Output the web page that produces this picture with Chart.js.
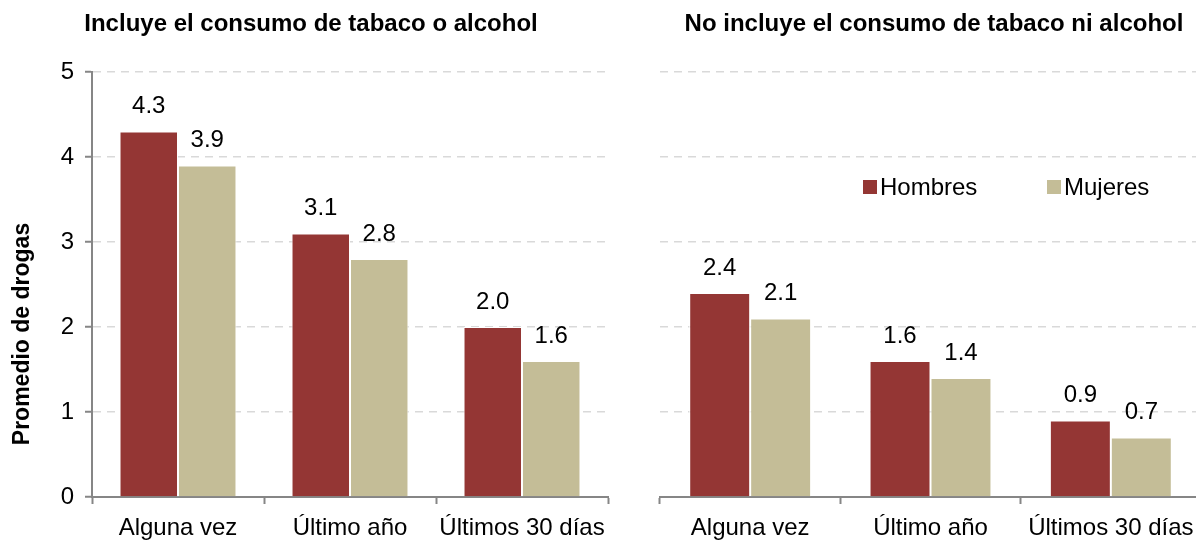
<!DOCTYPE html>
<html>
<head>
<meta charset="utf-8">
<script src="https://cdn.jsdelivr.net/npm/chart.js@4"></script>
<style>
  html,body{margin:0;padding:0;background:#fff;}
  #wrap{position:relative;width:1196px;height:541px;overflow:hidden;}
  .c{position:absolute;top:0;}
</style>
</head>
<body>
<div id="wrap">
  <div class="c" style="left:0;width:620px;height:541px;"><canvas id="left"></canvas></div>
  <div class="c" style="left:620px;width:586px;height:541px;"><canvas id="right"></canvas></div>
</div>
<script>
const categories = ["Alguna vez", "Último año", "Últimos 30 días"];
const seriesNames = ["Hombres", "Mujeres"];
const leftHombres = [4.3, 3.1, 2.0];
const leftMujeres = [3.9, 2.8, 1.6];
const rightHombres = [2.4, 1.6, 0.9];
const rightMujeres = [2.1, 1.4, 0.7];
const yTicks = [0, 1, 2, 3, 4, 5];
const leftTitle = "Incluye el consumo de tabaco o alcohol";
const rightTitle = "No incluye el consumo de tabaco ni alcohol";
const yAxisTitle = "Promedio de drogas";

const RED = "#943634";
const BEIGE = "#C4BD97";
const FONT = "'Liberation Sans', Arial, sans-serif";
const AXIS = "#868686";
const GRID = "#d9d9d9";

const valueLabels = {
  id: "valueLabels",
  afterDatasetsDraw(chart) {
    const ctx = chart.ctx;
    ctx.save();
    ctx.font = "24px " + FONT;
    ctx.fillStyle = "#000";
    ctx.textAlign = "center";
    ctx.textBaseline = "middle";
    chart.data.datasets.forEach((ds, i) => {
      chart.getDatasetMeta(i).data.forEach((bar, j) => {
        ctx.fillText(ds.data[j].toFixed(1), bar.x, bar.y - 25);
      });
    });
    ctx.restore();
  }
};

const textDecor = {
  id: "textDecor",
  afterDraw(chart, args, opts) {
    const ctx = chart.ctx;
    ctx.save();
    ctx.fillStyle = "#000";
    ctx.font = "bold 24px " + FONT;
    ctx.textAlign = "center";
    ctx.textBaseline = "middle";
    ctx.fillText(opts.title, opts.titleX, 24);
    if (opts.yTitle) {
      ctx.font = "bold 23px " + FONT;
      ctx.translate(23, 334);
      ctx.rotate(-Math.PI / 2);
      ctx.fillText(opts.yTitle, 0, 0);
      ctx.setTransform(1,0,0,1,0,0);
    }
    if (opts.legend) {
      ctx.font = "24px " + FONT;
      ctx.textAlign = "left";
      const xs = opts.legendX;
      chart.data.datasets.forEach((ds, i) => {
        ctx.fillStyle = ds.backgroundColor;
        ctx.fillRect(xs[i], 180, 14, 14);
        ctx.fillStyle = "#000";
        ctx.fillText(ds.label, xs[i] + 17, 188);
      });
    }
    ctx.restore();
  }
};

function makeChart(id, h, m, leftW, rightPad, catPct, decor, showY) {
  return new Chart(document.getElementById(id), {
    type: "bar",
    data: {
      labels: categories,
      datasets: [
        { label: seriesNames[0], data: h, backgroundColor: RED, borderColor: "#fff", borderWidth: 1 },
        { label: seriesNames[1], data: m, backgroundColor: BEIGE, borderColor: "#fff", borderWidth: 1 }
      ]
    },
    options: {
      responsive: true,
      maintainAspectRatio: false,
      animation: false,
      events: [],
      datasets: { bar: { categoryPercentage: catPct, barPercentage: 1.0 } },
      layout: { padding: { top: 72, right: rightPad, left: 0, bottom: 0 } },
      plugins: { legend: { display: false }, tooltip: { enabled: false }, title: { display: false }, textDecor: decor },
      scales: {
        x: {
          offset: true,
          afterFit(s) { s.height = 44; },
          grid: { offset: true, drawOnChartArea: false, drawTicks: true, tickLength: 7, tickColor: AXIS, tickWidth: 2 },
          border: { display: true, color: AXIS, width: 2 },
          ticks: { color: "#000", font: { family: FONT, size: 24 }, padding: 10, maxRotation: 0, autoSkip: false }
        },
        y: {
          min: 0, max: 5,
          afterFit(s) { s.width = leftW; },
          afterBuildTicks(s) { s.ticks = yTicks.map(v => ({ value: v })); },
          grid: {
            color: ctx => ctx.tick && ctx.tick.value === 0 ? "rgba(0,0,0,0)" : GRID,
            lineWidth: 1.5,
            drawTicks: showY,
            tickLength: 7,
            tickColor: AXIS,
            tickWidth: 2,
            tickBorderDash: []
          },
          border: { display: showY, color: AXIS, width: 2, dash: [8, 6] },
          ticks: { display: showY, color: "#000", font: { family: FONT, size: 24 }, padding: 11 }
        }
      }
    },
    plugins: [valueLabels, textDecor]
  });
}

makeChart("left", leftHombres, leftMujeres, 92, 12, 0.68,
  { title: leftTitle, titleX: 311, yTitle: yAxisTitle }, true);
makeChart("right", rightHombres, rightMujeres, 40, 5, 0.676,
  { title: rightTitle, titleX: 314, legend: true, legendX: [243, 427] }, false);
</script>
</body>
</html>
